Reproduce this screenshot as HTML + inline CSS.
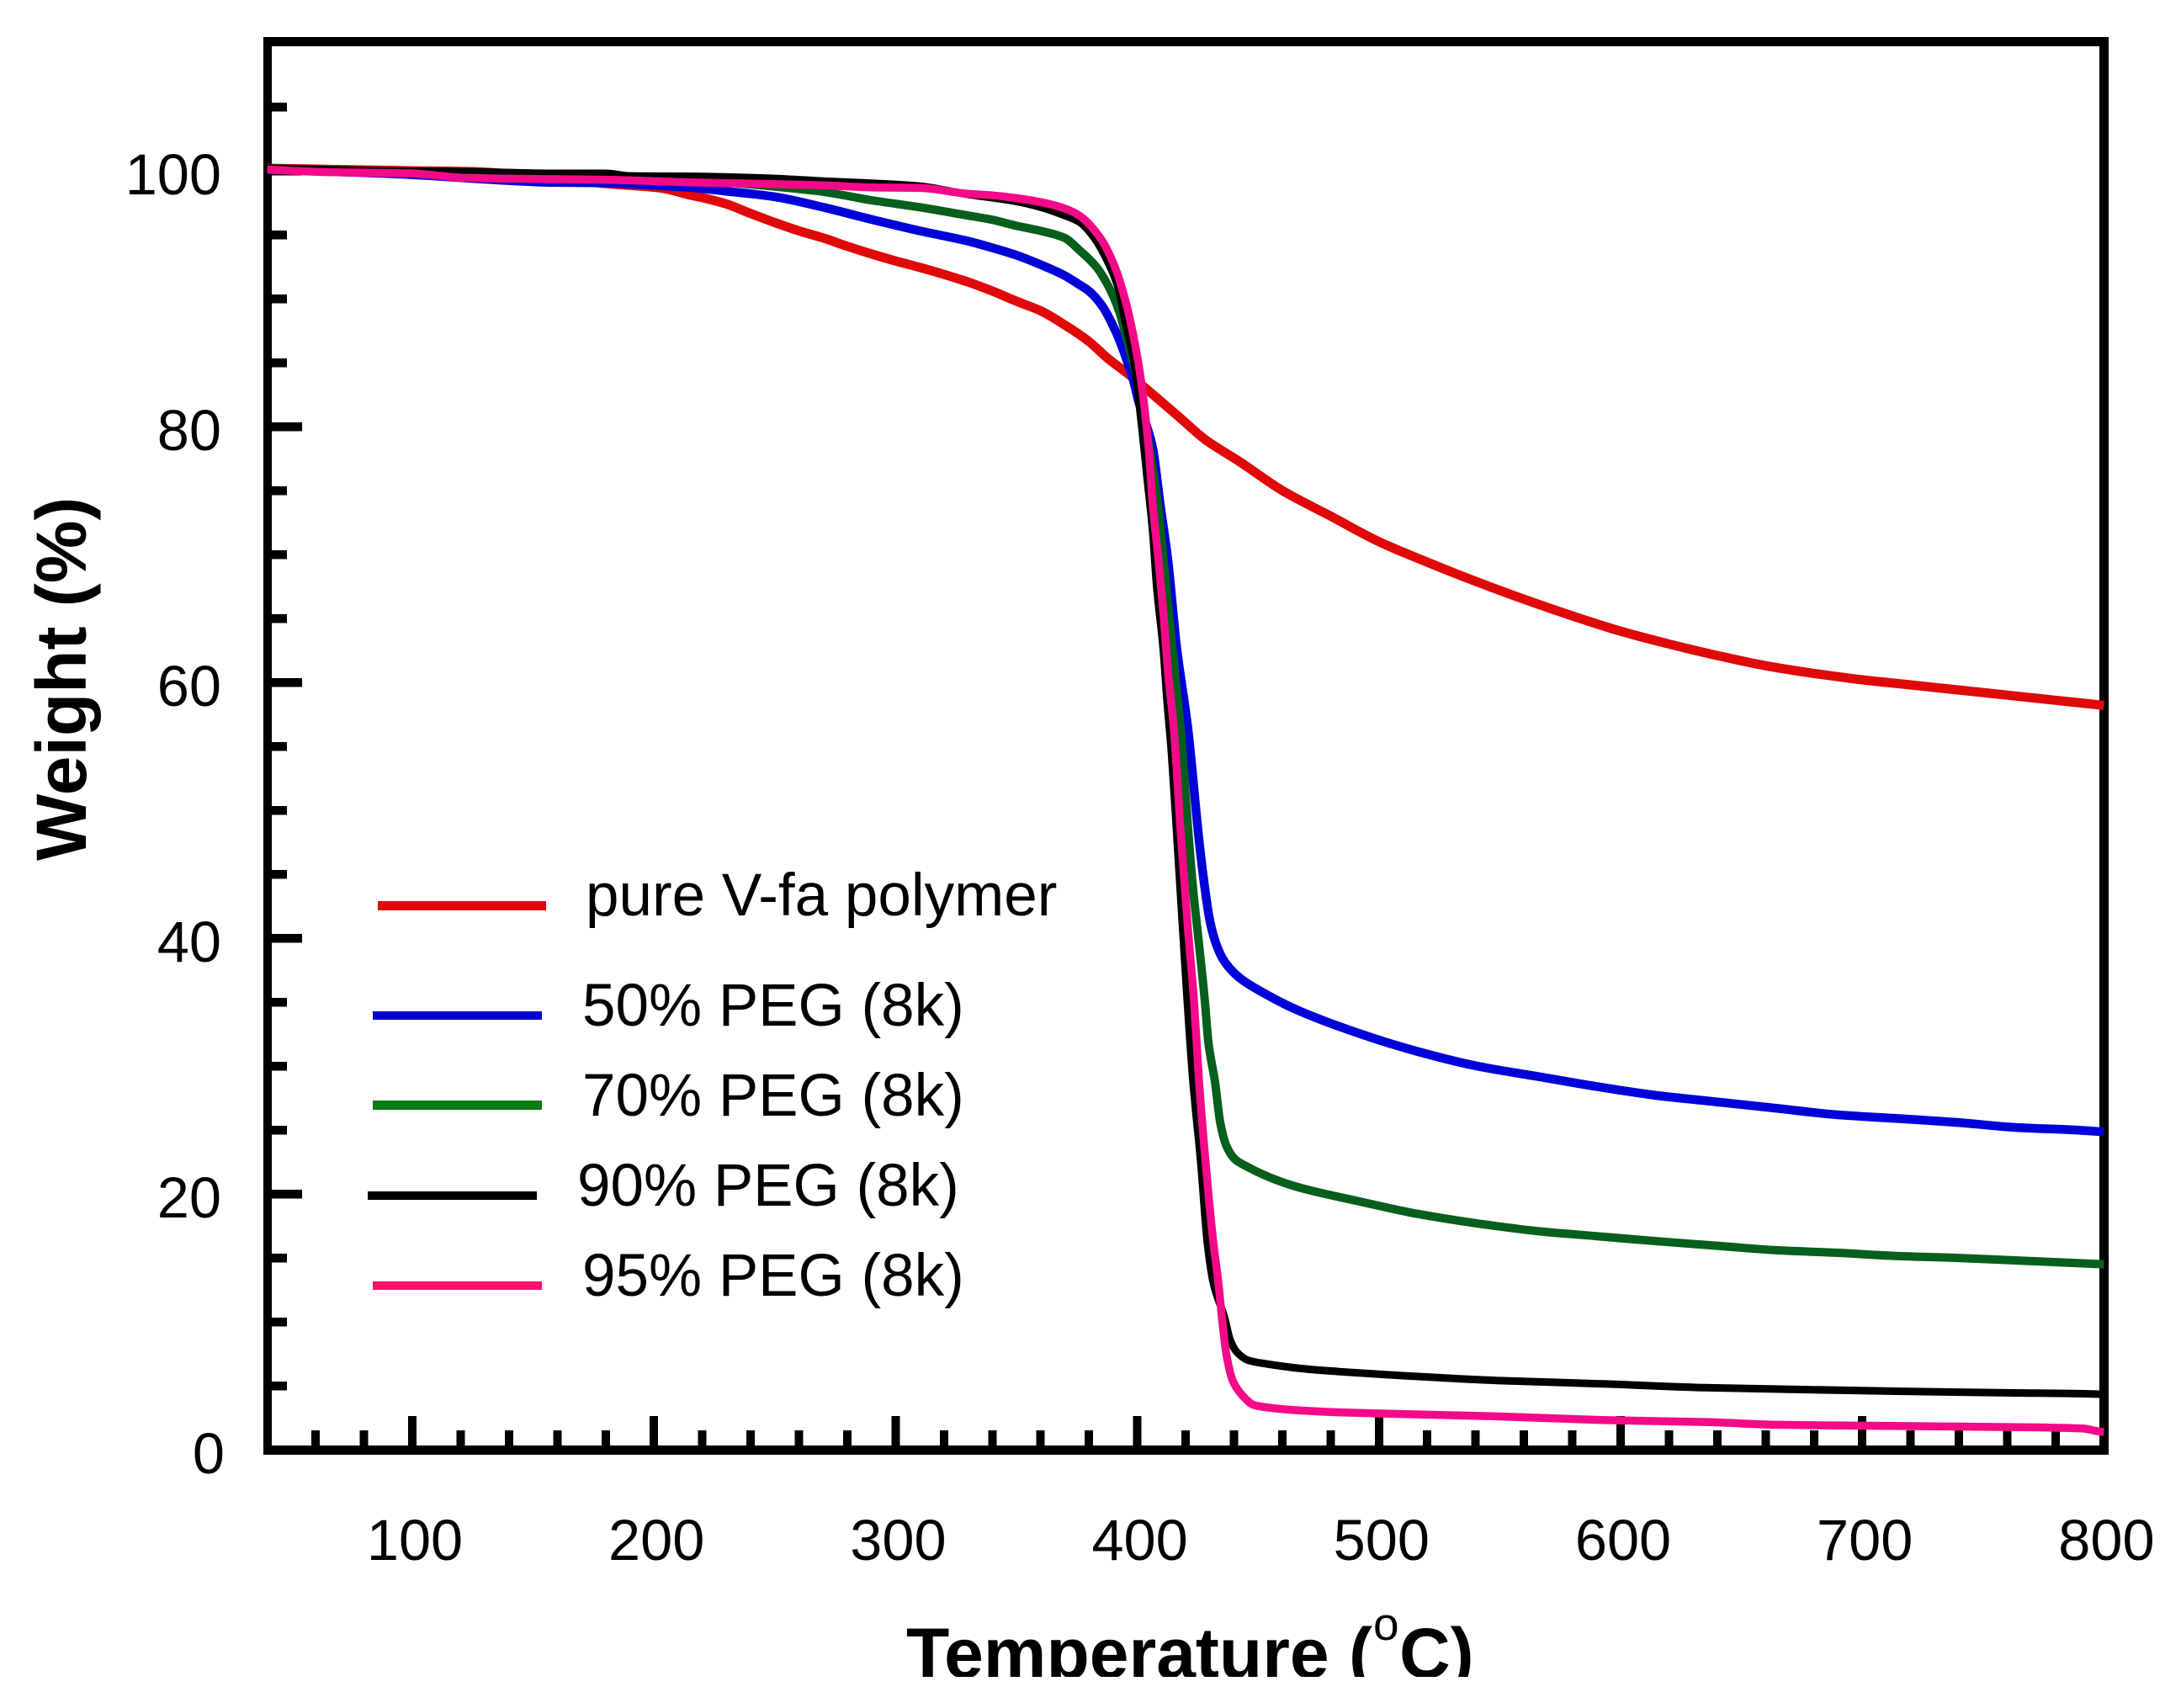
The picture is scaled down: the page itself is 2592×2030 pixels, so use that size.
<!DOCTYPE html>
<html lang="en">
<head>
<meta charset="utf-8">
<title>TGA Weight vs Temperature</title>
<style>
html,body{margin:0;padding:0;background:#fff;}
svg{display:block;}
text{font-family:"Liberation Sans",Arial,sans-serif;fill:#000;}
.tick-label{font-size:68.5px;}
.legend-label{font-size:71px;}
.axis-title{font-size:84px;font-weight:bold;}
</style>
</head>
<body>
<svg id="chart" xmlns="http://www.w3.org/2000/svg" width="2592" height="2030" viewBox="0 0 2592 2030">
  <defs>
    <clipPath id="x-title-clip"><rect x="1000" y="1880" width="900" height="113"/></clipPath>
  </defs>
  <rect x="0" y="0" width="2592" height="2030" fill="#fff"/>
  <g id="ticks"></g>
  <g id="tick-labels"></g>
  <g fill="#000" shape-rendering="crispEdges">
    <rect x="313" y="44" width="10" height="1685"/>
    <rect x="2495" y="44" width="11" height="1685"/>
    <rect x="313" y="44" width="2193" height="11"/>
    <rect x="313" y="1718" width="2193" height="11"/>
  </g>
  <g id="curves"></g>
  <g shape-rendering="crispEdges">
    <rect x="449" y="1071" width="200" height="11" fill="#e00808"/>
    <rect x="443" y="1202" width="201" height="10" fill="#0000d0"/>
    <rect x="443" y="1308" width="201" height="11" fill="#067d12"/>
    <rect x="437" y="1416" width="201" height="10" fill="#000000"/>
    <rect x="443" y="1523" width="201" height="10" fill="#ff1070"/>
  </g>
  <g>
    <text class="legend-label" x="696" y="1088">pure V-fa polymer</text>
    <text class="legend-label" x="692" y="1219">50% PEG (8k)</text>
    <text class="legend-label" x="692" y="1326">70% PEG (8k)</text>
    <text class="legend-label" x="686" y="1433">90% PEG (8k)</text>
    <text class="legend-label" x="692" y="1540">95% PEG (8k)</text>
  </g>
  <text class="axis-title" transform="translate(102,1023) rotate(-90)">Weight (%)</text>
  <g clip-path="url(#x-title-clip)">
    <text class="axis-title" x="1077" y="1994">Temperature (</text>
    <text x="1632" y="1949" font-size="55">o</text>
    <text class="axis-title" x="1663" y="1994">C)</text>
  </g>
</svg>
<script>
const xTickValues = [60,80,100,120,140,160,180,200,220,240,260,280,300,320,340,360,380,400,420,440,460,480,500,520,540,560,580,600,620,640,660,680,700,720,740,760,780];
const xTickLabels = [100,200,300,400,500,600,700,800];
const yTickValues = [5,10,15,20,25,30,35,40,45,50,55,60,65,70,75,80,85,90,95,100,105];
const yTickLabels = [0,20,40,60,80,100];

const pureTemp = [40,100,122,160,180,203,215,220,230,240,250,260,270,280,290,300,310,320,330,340,350,360,370,380,388,397,404,417,428,442,460,480,500,520,540,560,580,600,620,640,660,680,700,720,740,760,780,800];
const pureWeight = [100.2,100,99.95,99.4,99.0,98.65,98.1,97.9,97.4,96.66,95.95,95.3,94.75,94.1,93.5,92.95,92.45,91.9,91.3,90.6,89.8,89.05,87.95,86.65,85.3,84,82.9,80.8,79,77.3,75,73,71,69.4,67.9,66.5,65.2,64,63,62.1,61.3,60.7,60.2,59.8,59.4,59,58.6,58.2];

const peg50Temp = [40,100,125,157,180,197,215,230,250,270,290,310,330,340,350,360,370,376,380,385.6,391.4,394.9,398.4,400.5,406.4,409.5,412.7,416.2,421,425.6,427.6,430.1,432.9,436,442.3,453.4,465.9,491,515.7,540.5,565.2,589.9,615,639.7,664.4,689.1,713.9,738.6,763.3,788,800];
const peg50Weight = [100.1,99.7,99.4,99.1,99.05,98.9,98.7,98.4,97.97,97.15,96.2,95.3,94.5,93.98,93.4,92.66,91.8,91.1,90.6,89.4,87.3,85.6,83.6,82,78.3,73.9,69.5,62.9,56.3,47.6,44.4,41.3,39.4,38.2,36.9,35.6,34.4,32.6,31.15,30,29.2,28.4,27.7,27.2,26.7,26.2,25.9,25.6,25.2,25,24.85];

const peg70Temp = [40,100,168.6,191.6,215,238,250,270,290,310,330,340,350,360,370,376,383,388,392.5,395.3,398.4,402,408.5,410.9,414.4,417.9,421.4,422.8,424.5,426.3,428,429.4,432.2,434.3,437,440.5,445.8,454.1,466,491,515.7,540.5,565.2,589.9,615,639.7,664.4,689.1,713.9,738.6,763.3,788,800];
const peg70Weight = [100.2,99.85,99.5,99.4,99.3,98.97,98.76,98.36,97.7,97.15,96.5,96.17,95.7,95.3,94.75,93.8,92.5,91,89,87.1,84.9,81.6,73.9,69.5,62.9,56.4,47.6,44.4,41.3,38.2,35,31.9,28.7,25.6,23.7,22.7,22.1,21.35,20.55,19.45,18.45,17.7,17.1,16.7,16.3,15.95,15.6,15.4,15.15,15,14.8,14.6,14.5];

const peg90Temp = [40,88,131,157,180,190,215,250,270,290,310,330,350,360,370,376,382,388,392.5,395.3,398.4,400.1,401.2,402.2,404,406.4,408.1,410.6,412.3,414.1,416.5,418.6,420.7,423.1,426.3,429,431.5,436,438.4,440.9,445.8,453.8,467.7,484,500,550,591,637,677,714,760,797,800];
const peg90Weight = [100.2,100,99.9,99.8,99.8,99.6,99.57,99.4,99.2,99.03,98.8,98.15,97.6,97.15,96.5,96,94.8,92.8,90.6,87.9,85.3,83.1,81.1,79.4,76.1,71.7,67.3,62.9,58.6,54.6,47.6,41.3,35,28.7,22.4,16.15,13,10.4,8.6,7.7,7,6.7,6.35,6.1,5.9,5.4,5.16,4.84,4.7,4.57,4.45,4.35,4.3];

const peg95Temp = [40,64,99,122,157,180,215,250,270,290,310,330,340,350,360,370,376,384.5,390.7,395.3,398.4,400.5,402.2,404.7,406.4,408.8,410.9,412.7,415.1,418.2,420.7,423.5,425.6,428.3,431.5,433.6,435.3,437,439.5,443.7,448.2,456.2,469.1,486.5,550,591,637,665,698.5,744,791,798,800];
const peg95Weight = [100.1,99.9,99.8,99.45,99.35,99.3,99.1,98.96,98.87,98.7,98.66,98.2,98.08,97.86,97.55,97.05,96.5,94.8,92.5,89.7,87.1,84.9,82.7,78.3,73.9,69.5,65.2,60.8,56.4,47.6,41.3,35,28.7,22.4,16.15,13,9.8,7.3,5.4,4.2,3.5,3.25,3.05,2.9,2.6,2.33,2.15,1.95,1.88,1.8,1.66,1.43,1.4];

const NS = 'http://www.w3.org/2000/svg';
function xScale(t){ return 490 + 2.872 * (t - 100); }
function yScale(w){ return 1723 - 15.2 * w; }

const tickGroup = document.getElementById('ticks');
const labelGroup = document.getElementById('tick-labels');
const curveGroup = document.getElementById('curves');

xTickValues.forEach(function(t){
  const major = t % 100 === 0;
  const len = major ? 35 : 18;
  const el = document.createElementNS(NS, 'rect');
  el.setAttribute('x', xScale(t) - 5);
  el.setAttribute('y', 1718 - len);
  el.setAttribute('width', 10);
  el.setAttribute('height', len);
  el.setAttribute('fill', '#000');
  el.setAttribute('shape-rendering', 'crispEdges');
  
  
  tickGroup.appendChild(el);
});

yTickValues.forEach(function(w){
  const major = w % 20 === 0;
  const len = major ? 36 : 18;
  const el = document.createElementNS(NS, 'rect');
  el.setAttribute('x', 323);
  el.setAttribute('y', yScale(w) - 5);
  el.setAttribute('width', len);
  el.setAttribute('height', 10.5);
  el.setAttribute('fill', '#000');
  el.setAttribute('shape-rendering', 'crispEdges');
  
  
  tickGroup.appendChild(el);
});

xTickLabels.forEach(function(t){
  const el = document.createElementNS(NS, 'text');
  el.setAttribute('class', 'tick-label');
  el.setAttribute('x', xScale(t) + 3);
  el.setAttribute('y', 1854);
  el.setAttribute('text-anchor', 'middle');
  
  
  el.textContent = t;
  labelGroup.appendChild(el);
});

yTickLabels.forEach(function(w){
  const el = document.createElementNS(NS, 'text');
  el.setAttribute('class', 'tick-label');
  el.setAttribute('x', w === 0 ? 267 : 263);
  el.setAttribute('y', yScale(w) + 28);
  el.setAttribute('text-anchor', 'end');
  
  
  el.textContent = w;
  labelGroup.appendChild(el);
});

/* Shape-preserving (monotone) cubic through the data points, in pixel space */
function smoothPath(temps, weights){
  const xs = temps.map(xScale);
  const ys = weights.map(yScale);
  const n = xs.length;
  const h = [];
  const d = [];
  for (let i = 0; i < n - 1; i++) {
    h.push(xs[i + 1] - xs[i]);
    d.push((ys[i + 1] - ys[i]) / h[i]);
  }
  const m = new Array(n).fill(0);
  m[0] = d[0];
  m[n - 1] = d[n - 2];
  for (let i = 1; i < n - 1; i++) {
    if (d[i - 1] * d[i] > 0) {
      const w1 = 2 * h[i] + h[i - 1];
      const w2 = h[i] + 2 * h[i - 1];
      m[i] = (w1 + w2) / (w1 / d[i - 1] + w2 / d[i]);
    }
  }
  let path = 'M' + xs[0].toFixed(1) + ' ' + ys[0].toFixed(1);
  for (let i = 0; i < n - 1; i++) {
    const c1x = xs[i] + h[i] / 3;
    const c1y = ys[i] + m[i] * h[i] / 3;
    const c2x = xs[i + 1] - h[i] / 3;
    const c2y = ys[i + 1] - m[i + 1] * h[i] / 3;
    path += 'C' + c1x.toFixed(1) + ' ' + c1y.toFixed(1) + ' ' + c2x.toFixed(1) + ' ' + c2y.toFixed(1) + ' ' + xs[i + 1].toFixed(1) + ' ' + ys[i + 1].toFixed(1);
  }
  return path;
}

function drawCurve(temps, weights, color, width, name){
  const el = document.createElementNS(NS, 'path');
  el.setAttribute('d', smoothPath(temps, weights));
  el.setAttribute('fill', 'none');
  el.setAttribute('stroke', color);
  el.setAttribute('stroke-width', width);
  el.setAttribute('stroke-linejoin', 'round');
  
  
  curveGroup.appendChild(el);
}

drawCurve(pureTemp, pureWeight, '#e00808', 11, 'curve-pure-v-fa');
drawCurve(peg50Temp, peg50Weight, '#0000d8', 10.5, 'curve-50-peg');
drawCurve(peg70Temp, peg70Weight, '#065f1c', 10, 'curve-70-peg');
drawCurve(peg90Temp, peg90Weight, '#000000', 9, 'curve-90-peg');
drawCurve(peg95Temp, peg95Weight, '#f40a88', 9.5, 'curve-95-peg');
</script>
</body>
</html>
